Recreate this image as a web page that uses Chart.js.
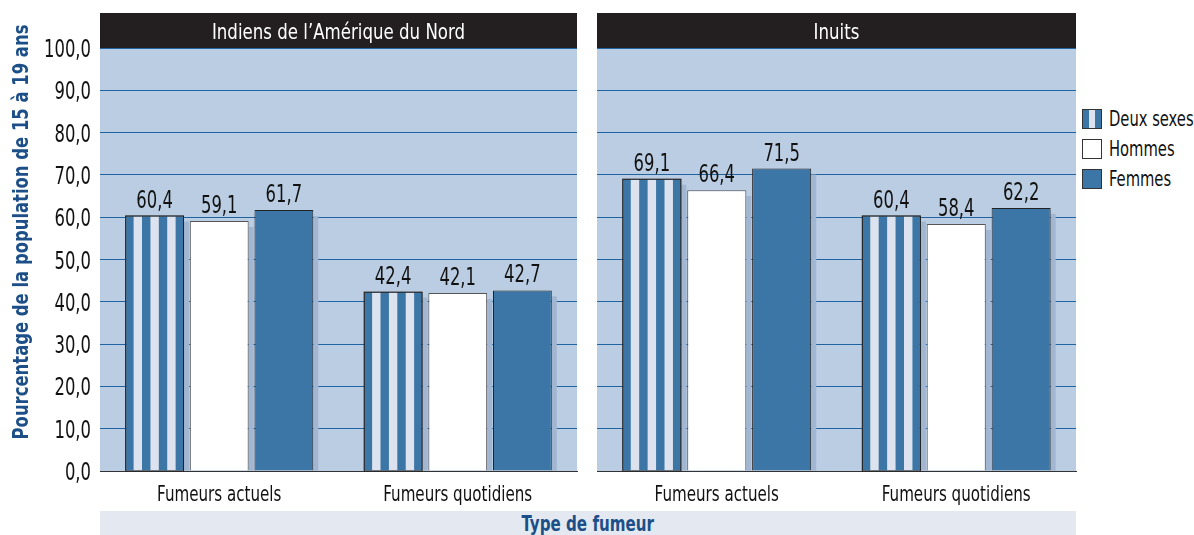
<!DOCTYPE html>
<html>
<head>
<meta charset="utf-8">
<script src="https://cdn.jsdelivr.net/npm/chart.js@4.4.1/dist/chart.umd.min.js"></script>
<style>
  body { margin: 0; background: #fff; width: 1194px; height: 535px; overflow: hidden; position: relative; }
  canvas { position: absolute; }
  #c1 { left: 0; top: 0; }
  #c2 { left: 594px; top: 0; }
  .legend { position: absolute; left: 1082px; top: 104px; font-family: "DejaVu Sans Condensed", "DejaVu Sans", sans-serif; font-size: 21px; color: #111; white-space: nowrap; }
  .legend div { height: 30px; display: flex; align-items: center; }
  .legend span.box { display: inline-block; width: 20px; height: 20px; border: 1px solid #333; margin-right: 7px; box-sizing: border-box; flex: none; }
  .legend span.txt { display: inline-block; transform: scaleX(0.78); transform-origin: left center; }
  .xtitle { position: absolute; left: 100px; top: 511px; width: 976px; height: 24px; background: #e3e8f1; text-align: center; font-family: "DejaVu Sans Condensed", "DejaVu Sans", sans-serif; font-weight: bold; font-size: 21px; line-height: 26px; color: #1c4f88; }
  .xtitle span { display: inline-block; transform: scaleX(0.8); }
</style>
</head>
<body>
<canvas id="c1" width="580" height="511"></canvas>
<canvas id="c2" width="485" height="511"></canvas>
<div class="legend">
  <div><span class="box" style="background: linear-gradient(90deg, #3c76a6 0 33%, #dce3ee 33% 66%, #3c76a6 66%);"></span><span class="txt">Deux sexes</span></div>
  <div><span class="box" style="background:#fff;"></span><span class="txt">Hommes</span></div>
  <div><span class="box" style="background:#3c76a6;"></span><span class="txt">Femmes</span></div>
</div>
<div class="xtitle"><span>Type de fumeur</span></div>
<script>
// --- DONNÉES ---
const categories = ['Fumeurs actuels', 'Fumeurs quotidiens'];
const panelTitles = ['Indiens de l’Amérique du Nord', 'Inuits'];
const seriesNames = ['Deux sexes', 'Hommes', 'Femmes'];
const indiensDeux = [60.4, 42.4];
const indiensHommes = [59.1, 42.1];
const indiensFemmes = [61.7, 42.7];
const inuitsDeux = [69.1, 60.4];
const inuitsHommes = [66.4, 58.4];
const inuitsFemmes = [71.5, 62.2];
const yMin = 0, yMax = 100, yStep = 10;
const yTitle = 'Pourcentage de la population de 15 à 19 ans';

const FONT = '"DejaVu Sans Condensed", "DejaVu Sans", sans-serif';
const BLUE = '#3c76a6';
const LIGHT = '#dce3ee';
const fmt = v => v.toFixed(1).replace('.', ',');

// texte étroit (la police d'origine est très condensée)
function narrowText(ctx, text, x, y, font, sx, align) {
  ctx.save();
  ctx.translate(x, y);
  ctx.scale(sx, 1);
  ctx.font = font;
  ctx.textAlign = align || 'center';
  ctx.textBaseline = 'alphabetic';
  ctx.fillText(text, 0, 0);
  ctx.restore();
}

// fond du panneau, bandeau de titre, étiquettes d'axes
const panelPlugin = {
  id: 'panel',
  beforeDraw(chart) {
    const { ctx, chartArea: a } = chart;
    const opts = chart.options.plugins.panel;
    ctx.save();
    ctx.fillStyle = '#bbcde2';
    ctx.fillRect(a.left, a.top, a.right - a.left, a.bottom - a.top);
    ctx.fillStyle = '#231f20';
    ctx.fillRect(a.left, a.top - 35, a.right - a.left, 35);
    ctx.fillStyle = '#fff';
    narrowText(ctx, opts.title, (a.left + a.right) / 2, a.top - 9, '22px ' + FONT, 0.84);

    ctx.fillStyle = '#111';
    const xs = chart.scales.x;
    categories.forEach((c, i) => {
      narrowText(ctx, c, xs.getPixelForValue(i), a.bottom + 30, '21px ' + FONT, 0.8);
    });
    if (opts.yAxis) {
      const ys = chart.scales.y;
      ys.ticks.forEach(t => {
        narrowText(ctx, fmt(t.value), a.left - 9, ys.getPixelForValue(t.value) + 9, '24px ' + FONT, 0.76, 'right');
      });
      ctx.translate(28, 232);
      ctx.rotate(-Math.PI / 2);
      ctx.fillStyle = '#1c4f88';
      narrowText(ctx, yTitle, 0, 0, 'bold 22px ' + FONT, 0.83);
    }
    ctx.restore();
  }
};

// ombres, rayures et étiquettes de valeurs
const barsPlugin = {
  id: 'bars',
  beforeDatasetsDraw(chart) {
    const ctx = chart.ctx;
    ctx.save();
    ctx.fillStyle = '#a2b5d1';
    chart.data.datasets.forEach((ds, i) => {
      chart.getDatasetMeta(i).data.forEach(el => {
        const p = el.getProps(['x', 'y', 'base', 'width'], true);
        ctx.fillRect(p.x + p.width / 2, p.y + 6, 5, p.base - p.y - 6);
      });
    });
    ctx.restore();
  },
  afterDatasetsDraw(chart) {
    const ctx = chart.ctx;
    ctx.save();
    chart.getDatasetMeta(0).data.forEach(el => {
      const p = el.getProps(['x', 'y', 'base', 'width'], true);
      const left = p.x - p.width / 2, sw = p.width / 7;
      ctx.fillStyle = LIGHT;
      [1, 3, 5].forEach(k => ctx.fillRect(left + k * sw, p.y + 1, sw, p.base - p.y - 1));
      ctx.strokeStyle = '#222';
      ctx.lineWidth = 1;
      ctx.strokeRect(left + 0.5, p.y + 0.5, p.width - 1, p.base - p.y);
    });
    ctx.fillStyle = '#111';
    chart.data.datasets.forEach((ds, i) => {
      chart.getDatasetMeta(i).data.forEach((el, j) => {
        const p = el.getProps(['x', 'y'], true);
        narrowText(ctx, fmt(ds.data[j]), p.x, p.y - 8, '24px ' + FONT, 0.76);
      });
    });
    ctx.restore();
  }
};

function makeChart(id, title, deux, hommes, femmes, showY) {
  const common = { borderWidth: 1, categoryPercentage: 0.813, barPercentage: 0.91 };
  return new Chart(document.getElementById(id), {
    type: 'bar',
    data: {
      labels: categories,
      datasets: [
        { label: seriesNames[0], data: deux, backgroundColor: BLUE, borderColor: '#222', ...common },
        { label: seriesNames[1], data: hommes, backgroundColor: '#fff', borderColor: '#555', ...common },
        { label: seriesNames[2], data: femmes, backgroundColor: BLUE, borderColor: '#222', ...common }
      ]
    },
    options: {
      responsive: false,
      animation: false,
      layout: { padding: { top: 48, left: showY ? 0 : 3, right: 3, bottom: 0 } },
      plugins: {
        legend: { display: false },
        tooltip: { enabled: false },
        panel: { title: title, yAxis: showY }
      },
      scales: {
        x: {
          grid: { display: false },
          border: { color: '#333', width: 1 },
          ticks: { display: false },
          afterFit: s => { s.height = 40; }
        },
        y: {
          min: yMin, max: yMax,
          grid: { color: '#1f64a0', lineWidth: 1, drawTicks: false },
          border: { display: false },
          ticks: { display: false, stepSize: yStep },
          afterFit: s => { s.width = showY ? 100 : 0; }
        }
      }
    },
    plugins: [panelPlugin, barsPlugin]
  });
}

makeChart('c1', panelTitles[0], indiensDeux, indiensHommes, indiensFemmes, true);
makeChart('c2', panelTitles[1], inuitsDeux, inuitsHommes, inuitsFemmes, false);
</script>
</body>
</html>
